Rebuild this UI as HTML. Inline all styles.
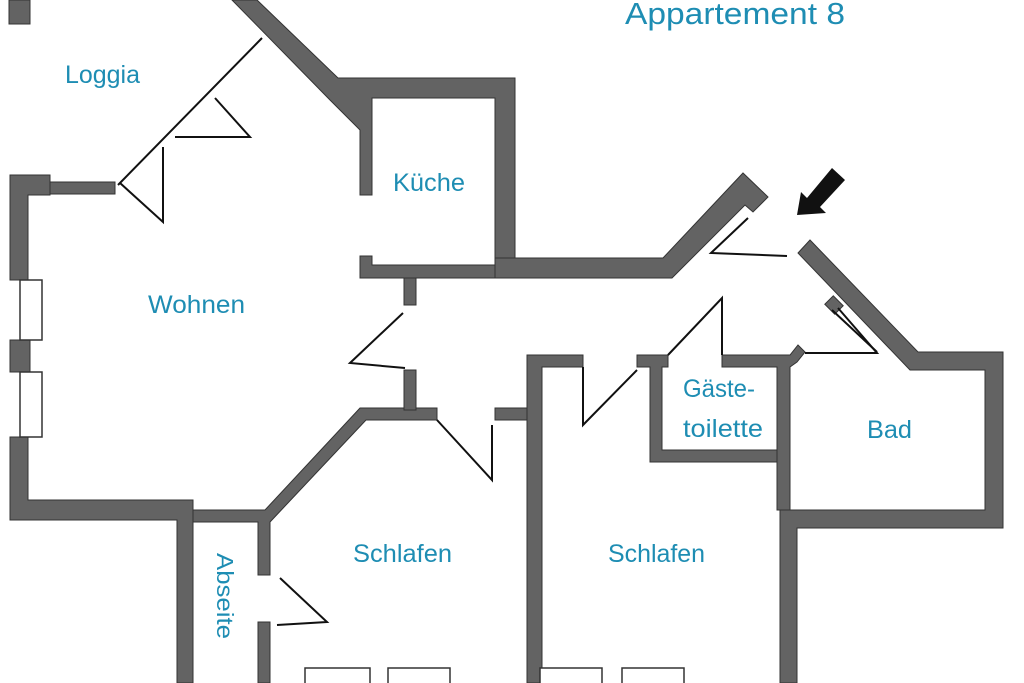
<!DOCTYPE html>
<html><head><meta charset="utf-8"><style>
html,body{margin:0;padding:0;background:#fff;}
svg{display:block}
text{font-family:"Liberation Sans",sans-serif;fill:#1e8db3;}
</style></head><body>
<svg width="1024" height="683" viewBox="0 0 1024 683" xmlns="http://www.w3.org/2000/svg">
<g fill="#636363" stroke="#333" stroke-width="1">
<rect x="9" y="0" width="21" height="24"/>
<polygon points="232,0 257,0 338,78 515,78 515,270 495,270 495,98 372,98 372,195 360,195 360,130 330,100"/>
<polygon points="360,256 372,256 372,265 495,265 495,278 360,278"/>
<rect x="404" y="278" width="12" height="27"/>
<polygon points="495,258 663,258 743,173 768,197 753,212 745,205 672,278 495,278"/>
<polygon points="810,240 918,352 1003,352 1003,528 797,528 797,683 780,683 780,510 985,510 985,370 910,370 798,253"/>
<rect x="828" y="298" width="12" height="14" transform="rotate(-45 834 305)"/>
<polygon points="10,175 50,175 50,195 28,195 28,280 10,280"/>
<rect x="50" y="182" width="65" height="12"/>
<rect x="10" y="340" width="20" height="32"/>
<polygon points="10,437 28,437 28,500 193,500 193,683 177,683 177,520 10,520"/>
<polygon points="193,510 265,510 360,408 437,408 437,420 366,420 270,522 270,575 258,575 258,522 193,522"/>
<rect x="258" y="622" width="12" height="61"/>
<rect x="404" y="370" width="12" height="40"/>
<rect x="495" y="408" width="32" height="12"/>
<polygon points="527,355 583,355 583,367 542,367 542,683 527,683"/>
<polygon points="637,355 668,355 668,367 662,367 662,450 777,450 777,462 650,462 650,367 637,367"/>
<polygon points="722,355 790,355 798,345 805,352 797,362 790,367 790,510 777,510 777,367 722,367"/>
</g>
<g fill="#fff" stroke="#333" stroke-width="1.5">
<rect x="20" y="280" width="22" height="60"/>
<rect x="20" y="372" width="22" height="65"/>
<rect x="305" y="668" width="65" height="16"/>
<rect x="388" y="668" width="62" height="16"/>
<rect x="540" y="668" width="62" height="16"/>
<rect x="622" y="668" width="62" height="16"/>
</g>
<g fill="none" stroke="#111" stroke-width="2">
<line x1="262" y1="38" x2="118" y2="185"/>
<polyline points="175,137 250,137 215,98"/>
<polyline points="120,183 163,222 163,147"/>
<polyline points="403,313 350,363 405,368"/>
<polyline points="437,420 492,480 492,425"/>
<polyline points="583,367 583,425 637,370"/>
<polyline points="668,355 722,298 722,355"/>
<polyline points="748,218 711,253 787,256"/>
<polyline points="805,353 877,353 838,308"/>
<line x1="832" y1="310" x2="877" y2="352"/>
<polyline points="280,578 327,622 277,625"/>
</g>
<polygon points="797,215 801,192 807,198 832,168 845,180 820,207 826,213" fill="#111"/>
<text x="625" y="24" font-size="31" textLength="220" lengthAdjust="spacingAndGlyphs">Appartement 8</text>
<text x="65" y="83" font-size="25" textLength="75" lengthAdjust="spacingAndGlyphs">Loggia</text>
<text x="393" y="191" font-size="25" textLength="72" lengthAdjust="spacingAndGlyphs">Küche</text>
<text x="148" y="313" font-size="25" textLength="97" lengthAdjust="spacingAndGlyphs">Wohnen</text>
<text x="683" y="397" font-size="25" textLength="72" lengthAdjust="spacingAndGlyphs">Gäste-</text>
<text x="683" y="437" font-size="25" textLength="80" lengthAdjust="spacingAndGlyphs">toilette</text>
<text x="867" y="438" font-size="25" textLength="45" lengthAdjust="spacingAndGlyphs">Bad</text>
<text x="353" y="562" font-size="25" textLength="99" lengthAdjust="spacingAndGlyphs">Schlafen</text>
<text x="608" y="562" font-size="25" textLength="97" lengthAdjust="spacingAndGlyphs">Schlafen</text>
<text x="0" y="0" font-size="23" textLength="86" lengthAdjust="spacingAndGlyphs" transform="translate(217,553) rotate(90)">Abseite</text>
</svg>
</body></html>
